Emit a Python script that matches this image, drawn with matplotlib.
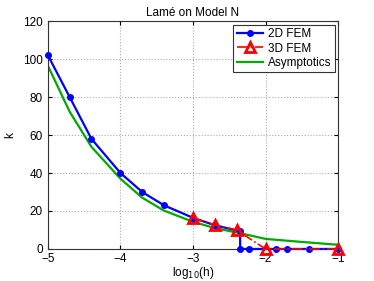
import numpy as np
import matplotlib
matplotlib.use("Agg")
import matplotlib.pyplot as plt

plt.rcParams['font.family'] = ['Liberation Sans', 'DejaVu Sans']

# 2D FEM
x2d = [-5, -4.7, -4.4, -4, -3.7, -3.4, -3, -2.7, -2.35, -2.35, -2.23, -1.86, -1.7, -1.4, -1]
k2d = [102, 80, 58, 40, 30, 23, 16.4, 12.5, 9.3, 0, 0, 0, 0, 0, 0]
# 3D FEM
x3d = [-3, -2.7, -2.4, -2, -1]
k3d = [16.3, 12.7, 10, 0, 0]
# Asymptotics
xas = [-5, -4.7, -4.4, -4, -3.7, -3.4, -3, -2.7, -2.35, -2, -1.5, -1]
kas = [96.5, 72.3, 53.8, 37, 27, 20.2, 14.3, 11, 8.3, 5.3, 3.7, 2.2]

fig = plt.figure(figsize=(3.74, 2.81), dpi=100)
ax = fig.add_axes([0.128, 0.114, 0.776, 0.811])

ax.plot(x2d, k2d, '-', color='blue', lw=1.6, marker='o', ms=4, label='2D FEM',
        zorder=3, clip_on=False)
ax.plot(x3d, k3d, '-.', color='red', lw=1.2, marker='^', ms=6.5, mfc='none', mew=2,
        label='3D FEM', zorder=4, clip_on=False)
ax.plot(xas, kas, '-', color='#00aa00', lw=1.6, label='Asymptotics', zorder=2)

ax.set_xlim(-5, -1)
ax.set_ylim(0, 120)
ax.set_xticks([-5, -4, -3, -2, -1])
ax.set_xticklabels(['\u22125', '\u22124', '\u22123', '\u22122', '\u22121'])
ax.set_yticks([0, 20, 40, 60, 80, 100, 120])
ax.grid(True, linestyle=':', color='#aaaaaa', lw=0.8)
ax.tick_params(direction='in', labelsize=8.5, top=True, right=True, length=3)
ax.tick_params(axis='x', pad=3)
ax.set_xlabel(r'log$_{10}$(h)', fontsize=8.5, labelpad=0)
ax.set_ylabel('k', fontsize=8.5, labelpad=5)
ax.set_title('Lamé on Model N', fontsize=8.5, pad=4)
for s in ax.spines.values():
    s.set_color('#333333')
    s.set_linewidth(0.8)

leg = ax.legend(loc='upper right', fontsize=8.5, fancybox=False, framealpha=1,
                edgecolor='#333333', borderpad=0.3, labelspacing=0.2,
                handlelength=2.2, handletextpad=0.4, borderaxespad=0.3)
leg.get_frame().set_linewidth(0.8)
leg.set_zorder(10)

fig.savefig('out.png', dpi=100)
